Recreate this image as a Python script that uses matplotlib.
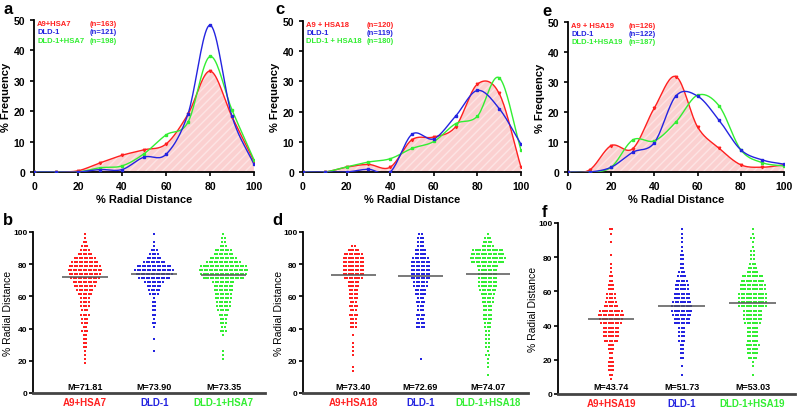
import matplotlib
matplotlib.use("Agg")
import matplotlib.pyplot as plt
import numpy as np

plt.rcParams['font.family'] = ['Liberation Sans', 'DejaVu Sans']

RED = "#ff2020"
BLUE = "#2424e0"
GREEN = "#33ee33"

# ---- top row: % frequency vs % radial distance ----
dist = [0, 10, 20, 30, 40, 50, 60, 70, 80, 90, 100]

a_red = [0, 0, 0.4, 3.0, 5.5, 7.3, 9.2, 19.0, 33.2, 18.2, 3.6]
a_blue = [0, 0, 0, 0.8, 0.8, 4.9, 5.8, 19.1, 48.3, 18.3, 2.5]
a_green = [0, 0, 0, 1.4, 2.0, 6.0, 12.2, 16.4, 38.0, 20.4, 4.0]

c_red = [0, 0, 1.6, 2.5, 1.6, 10.7, 11.6, 15.0, 29.1, 26.0, 1.6]
c_blue = [0, 0, 0, 0.9, 0, 12.5, 11.0, 18.5, 27.0, 21.0, 9.2]
c_green = [0, 0, 1.7, 3.3, 4.4, 7.8, 10.1, 16.0, 18.5, 31.2, 7.3]

e_red = [0, 0.7, 8.8, 7.8, 21.4, 31.8, 15.0, 7.9, 2.4, 1.6, 2.4]
e_blue = [0, 0, 1.6, 6.6, 9.8, 25.4, 25.3, 17.2, 7.4, 4.0, 2.6]
e_green = [0, 0, 1.6, 10.7, 10.4, 16.7, 25.6, 22.0, 7.4, 3.1, 2.0]

a_names = ["A9+HSA7", "DLD-1", "DLD-1+HSA7"]
a_n = ["(n=163)", "(n=121)", "(n=198)"]
c_names = ["A9 + HSA18", "DLD-1", "DLD-1 + HSA18"]
c_n = ["(n=120)", "(n=119)", "(n=180)"]
e_names = ["A9 + HSA19", "DLD-1", "DLD-1+HSA19"]
e_n = ["(n=126)", "(n=122)", "(n=187)"]

# ---- bottom row: counts per 2.5 % bin (0-2.5, 2.5-5, ... 97.5-100) ----
b_red = [0]*4 + [0, 0, 0, 1] + [1, 1, 1, 2] + [2, 2, 2, 3] + [2, 3, 3, 4] + [3, 4, 4, 4] + \
        [6, 7, 9, 10] + [12, 13, 14, 13] + [11, 9, 6, 4] + [3, 2, 1, 1]
b_blue = [0]*8 + [0, 0, 1, 0] + [0, 1, 0, 0] + [1, 2, 1, 2] + [2, 2, 2, 1] + \
         [4, 5, 6, 8] + [13, 15, 16, 14] + [9, 6, 4, 3] + [1, 1, 0, 1]
b_green = [0]*8 + [1, 1, 1, 0] + [0, 0, 1, 3] + [2, 3, 3, 4] + [5, 6, 6, 7] + \
          [7, 8, 8, 9] + [17, 19, 20, 19] + [14, 11, 8, 7] + [3, 2, 2, 1]

d_red = [0]*4 + [0, 1, 1, 0] + [0, 1, 1, 1] + [1, 0, 1, 0] + [3, 3, 3, 4] + [3, 4, 3, 4] + \
        [4, 4, 5, 5] + [8, 9, 9, 9] + [9, 9, 8, 5] + [2, 0, 0, 0]
d_blue = [0]*8 + [1, 0, 0, 0] + [0, 0, 0, 0] + [4, 4, 3, 4] + [3, 3, 4, 3] + \
         [5, 5, 6, 6] + [8, 8, 8, 8] + [8, 7, 5, 5] + [3, 3, 3, 2]
d_green = [0]*4 + [1, 0, 1, 1] + [1, 2, 1, 2] + [2, 2, 2, 2] + [3, 3, 4, 4] + [4, 4, 5, 5] + \
          [6, 7, 8, 8] + [8, 8, 8, 9] + [14, 15, 14, 13] + [5, 4, 3, 1]

f_red = [0, 0, 0, 1] + [2, 3, 3, 3] + [2, 2, 3, 3] + [6, 7, 7, 7] + [9, 10, 11, 10] + \
        [6, 5, 4, 4] + [3, 3, 2, 2] + [1, 1, 1, 0] + [1, 0, 0, 1] + [0, 1, 2, 0]
f_blue = [0]*4 + [1, 0, 1, 0] + [2, 2, 2, 2] + [3, 3, 3, 3] + [7, 7, 8, 9] + \
         [9, 8, 7, 7] + [6, 6, 5, 4] + [3, 2, 2, 2] + [2, 1, 1, 1] + [1, 1, 1, 0]
f_green = [0]*4 + [1, 0, 1, 1] + [4, 5, 5, 6] + [5, 5, 5, 5] + [7, 8, 8, 8] + \
          [12, 12, 12, 12] + [11, 11, 10, 9] + [5, 4, 3, 2] + [2, 2, 1, 1] + [2, 1, 1, 0]

b_means = [71.81, 73.90, 73.35]
d_means = [73.40, 72.69, 74.07]
f_means = [43.74, 51.73, 53.03]
b_groups = ["A9+HSA7", "DLD-1", "DLD-1+HSA7"]
d_groups = ["A9+HSA18", "DLD-1", "DLD-1+HSA18"]
f_groups = ["A9+HSA19", "DLD-1", "DLD-1+HSA19"]


def smooth(x, y, n=20):
    # cardinal (catmull-rom) curve through the points, like excel smoothed lines
    x = np.asarray(x, float)
    y = np.asarray(y, float)
    px = np.concatenate([[2*x[0]-x[1]], x, [2*x[-1]-x[-2]]])
    py = np.concatenate([[2*y[0]-y[1]], y, [2*y[-1]-y[-2]]])
    xs, ys = [], []
    t = np.linspace(0, 1, n)
    for i in range(1, len(px)-2):
        for arr, out in ((px, xs), (py, ys)):
            p0, p1, p2, p3 = arr[i-1], arr[i], arr[i+1], arr[i+2]
            m1 = (p2 - p0)/2
            m2 = (p3 - p1)/2
            h00 = 2*t**3 - 3*t**2 + 1
            h10 = t**3 - 2*t**2 + t
            h01 = -2*t**3 + 3*t**2
            h11 = t**3 - t**2
            out.extend(h00*p1 + h10*m1 + h01*p2 + h11*m2)
    return np.array(xs), np.array(ys)


fig = plt.figure(figsize=(8, 4.1), dpi=100)
W, H = 800, 410


def add_ax(l, r, t, b):
    return fig.add_axes([l/W, 1 - b/H, (r-l)/W, (b-t)/H])


def letter_at(ch, x, y):
    fig.text(x/W, 1 - y/H, ch, fontsize=12, fontweight="bold", ha="center", va="center")


def top_panel(ax, red, blue, green, names, ns, lx):
    xr, yr = smooth(dist, red)
    ax.fill_between(xr, 0, np.clip(yr, 0, None), facecolor="#fbd0d0", edgecolor="#fde4e4",
                    hatch="////", linewidth=0, zorder=1)
    for vals, col, mk in ((red, RED, "v"), (green, GREEN, "s"), (blue, BLUE, "s")):
        xs, ys = smooth(dist, vals)
        ax.plot(xs, ys, color=col, lw=1.0, zorder=3)
        ax.plot(dist, vals, ls="none", marker=mk, ms=1.8, color=col, zorder=4)
    ax.set_xlim(0, 100)
    ax.set_ylim(0, 50)
    ax.set_xticks(range(0, 101, 20))
    ax.set_yticks(range(0, 51, 10))
    ax.tick_params(labelsize=7.5, width=1.2, length=3)
    for lab in ax.get_xticklabels() + ax.get_yticklabels():
        lab.set_fontweight("bold")
    for s in ("top", "right"):
        ax.spines[s].set_visible(False)
    for s in ("left", "bottom"):
        ax.spines[s].set_linewidth(1.3)
    ax.set_xlabel("% Radial Distance", fontsize=8, fontweight="bold", labelpad=2)
    ax.set_ylabel("% Frequency", fontsize=8, fontweight="bold", labelpad=2)
    for i, (nm, n, col) in enumerate(zip(names, ns, (RED, BLUE, GREEN))):
        ax.text(1.5, 48.8 - 2.7*i, nm, color=col, fontsize=5.5, fontweight="bold", va="center")
        ax.text(lx, 48.8 - 2.7*i, n, color=col, fontsize=5.5, fontweight="bold", va="center")


def bottom_panel(ax, groups_counts, means, labels, dx):
    bins = np.arange(40)*2.5 + 1.25
    for pos, (counts, col) in enumerate(zip(groups_counts, (RED, BLUE, GREEN))):
        xs, ys = [], []
        for yc, k in zip(bins, counts):
            for j in range(k):
                xs.append(pos + (j - (k-1)/2)*dx)
                ys.append(yc)
        ax.scatter(xs, ys, s=1.8, color=col, marker="s", linewidths=0, zorder=2)
        ax.hlines(means[pos], pos - 0.33, pos + 0.33, color="#555555", lw=1.1, zorder=3)
        ax.text(pos, 1.5, "M=%.2f" % means[pos], ha="center", va="bottom", fontsize=6.5,
                fontweight="bold")
    ax.set_xlim(-0.75, 2.6)
    ax.set_ylim(0, 100)
    ax.set_yticks(range(0, 101, 20))
    ax.set_xticks([0, 1, 2])
    ax.set_xticklabels(labels, fontsize=7, fontweight="bold")
    for lab, col in zip(ax.get_xticklabels(), (RED, BLUE, GREEN)):
        lab.set_color(col)
    ax.tick_params(axis="x", length=0, pad=3)
    ax.tick_params(axis="y", labelsize=6, width=1.2, length=3, pad=1)
    for lab in ax.get_yticklabels():
        lab.set_fontweight("bold")
    for s in ("top", "right"):
        ax.spines[s].set_visible(False)
    ax.spines["left"].set_linewidth(1.3)
    ax.spines["bottom"].set_linewidth(2.0)
    ax.spines["bottom"].set_color("#444444")
    ax.set_ylabel("% Radial Distance", fontsize=7.5)
    ax.yaxis.set_label_coords(-0.085, 0.5)


ax_a = add_ax(34, 254, 21, 173)
top_panel(ax_a, a_red, a_blue, a_green, a_names, a_n, 25.5)
ax_c = add_ax(303, 521, 22, 173)
top_panel(ax_c, c_red, c_blue, c_green, c_names, c_n, 29)
ax_e = add_ax(568, 784, 23, 173)
top_panel(ax_e, e_red, e_blue, e_green, e_names, e_n, 28)

ax_b = add_ax(33, 265, 233, 394)
bottom_panel(ax_b, [b_red, b_blue, b_green], b_means, b_groups, 0.036)
ax_d = add_ax(303, 528, 233, 394)
bottom_panel(ax_d, [d_red, d_blue, d_green], d_means, d_groups, 0.036)
ax_f = add_ax(558, 795, 224, 395)
bottom_panel(ax_f, [f_red, f_blue, f_green], f_means, f_groups, 0.034)

letter_at("a", 8, 9)
letter_at("c", 280, 10)
letter_at("e", 547, 11)
letter_at("b", 8, 221)
letter_at("d", 277, 221)
letter_at("f", 544, 213)

fig.savefig("out.png", dpi=100)
